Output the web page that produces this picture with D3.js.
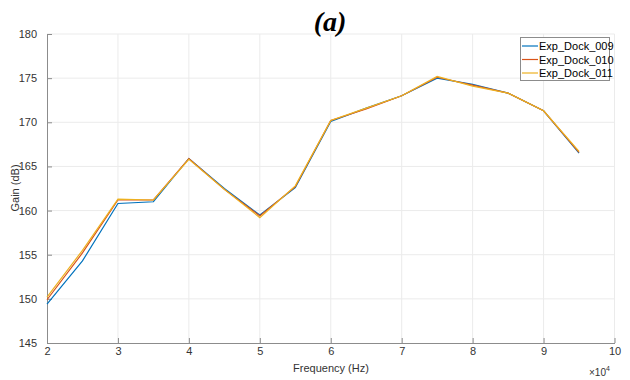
<!DOCTYPE html>
<html><head><meta charset="utf-8">
<script src="https://cdn.jsdelivr.net/npm/d3@7"></script>
<style>body{margin:0;background:#fff}svg{display:block}</style>
</head><body><svg id="c" width="630" height="380"></svg>
<script>
const freq = [20000,25000,30000,35000,40000,45000,50000,55000,60000,65000,70000,75000,80000,85000,90000,95000];
const dock009 = [149.4,154.3,160.8,161.0,165.9,162.5,159.5,162.6,170.1,171.6,173.0,175.0,174.3,173.3,171.3,166.5];
const dock010 = [149.9,155.2,161.2,161.2,165.9,162.4,159.4,162.7,170.2,171.5,173.0,175.1,174.2,173.3,171.3,166.6];
const dock011 = [150.2,155.5,161.3,161.2,165.8,162.4,159.2,162.8,170.2,171.6,173.0,175.2,174.1,173.3,171.3,166.7];
const seriesNames = ["Exp_Dock_009","Exp_Dock_010","Exp_Dock_011"];
const seriesColors = ["#0072BD","#D95319","#EDB120"];
const xTicks = [2,3,4,5,6,7,8,9,10];
const yTicks = [145,150,155,160,165,170,175,180];

const svg = d3.select("#c");
const L=47, R=614.5, T=34, B=343;
const x = d3.scaleLinear().domain([20000,100000]).range([L,R]);
const y = d3.scaleLinear().domain([145,180]).range([B,T]);
const font = "'Liberation Sans', Arial, sans-serif";

// grid
svg.append("g").selectAll("line.gx").data(xTicks.slice(1)).join("line")
  .attr("x1",d=>x(d*1e4)).attr("x2",d=>x(d*1e4)).attr("y1",T).attr("y2",B)
  .attr("stroke","#ebebeb").attr("stroke-width",1);
svg.append("g").selectAll("line.gy").data(yTicks.slice(1)).join("line")
  .attr("x1",L).attr("x2",R).attr("y1",d=>y(d)).attr("y2",d=>y(d))
  .attr("stroke","#ebebeb").attr("stroke-width",1);

// axes
const xAxis = d3.axisBottom(x).tickValues(xTicks.map(d=>d*1e4)).tickFormat((d,i)=>xTicks[i]).tickSizeInner(-5).tickSizeOuter(0).tickPadding(10);
const gx = svg.append("g").attr("transform",`translate(0,${B})`).call(xAxis);
const yAxis = d3.axisLeft(y).tickValues(yTicks).tickSizeInner(-5).tickSizeOuter(0).tickPadding(10);
const gy = svg.append("g").attr("transform",`translate(${L},0)`).call(yAxis);
[gx,gy].forEach(g=>{
  g.selectAll("path").attr("stroke","#8c8c8c");
  g.selectAll("line").attr("stroke","#8c8c8c");
  g.selectAll("text").attr("fill","#333").style("font-family",font).style("font-size","11px");
});
gx.selectAll("text").attr("dy","0.2em");

// lines
const series=[dock009,dock010,dock011];
const line = d3.line().x((d,i)=>x(freq[i])).y(d=>y(d));
series.forEach((s,k)=>{
  svg.append("path").datum(s).attr("d",line).attr("fill","none")
    .attr("stroke",seriesColors[k]).attr("stroke-width",1.2);
});

// labels
svg.append("text").attr("x",330).attr("y",31).attr("text-anchor","middle")
  .style("font-family","'Liberation Serif', 'Times New Roman', serif").style("font-weight","bold").style("font-style","italic").style("font-size","28px").attr("fill","#000").text("(a)");
svg.append("text").attr("transform","translate(19,188) rotate(-90)").attr("text-anchor","middle")
  .style("font-family",font).style("font-size","11px").attr("fill","#333").text("Gain (dB)");
svg.append("text").attr("x",331).attr("y",372).attr("text-anchor","middle")
  .style("font-family",font).style("font-size","11px").attr("fill","#333").text("Frequency (Hz)");
const ex = svg.append("text").attr("x",589).attr("y",376).style("font-family",font).style("font-size","10px").attr("fill","#333");
ex.append("tspan").text("×10");
ex.append("tspan").attr("dy",-5).style("font-size","7px").text("4");

// legend
const lg = svg.append("g");
lg.append("rect").attr("x",520.5).attr("y",37.5).attr("width",89).attr("height",43).attr("fill","#fff").attr("stroke","#8c8c8c");
seriesNames.forEach((n,k)=>{
  const yy = 46+k*13.5;
  lg.append("line").attr("x1",522).attr("x2",538).attr("y1",yy).attr("y2",yy).attr("stroke",seriesColors[k]).attr("stroke-width",1.2);
  lg.append("text").attr("x",539).attr("y",yy+4).style("font-family",font).style("font-size","11px").attr("fill","#000").text(n);
});
</script></body></html>
